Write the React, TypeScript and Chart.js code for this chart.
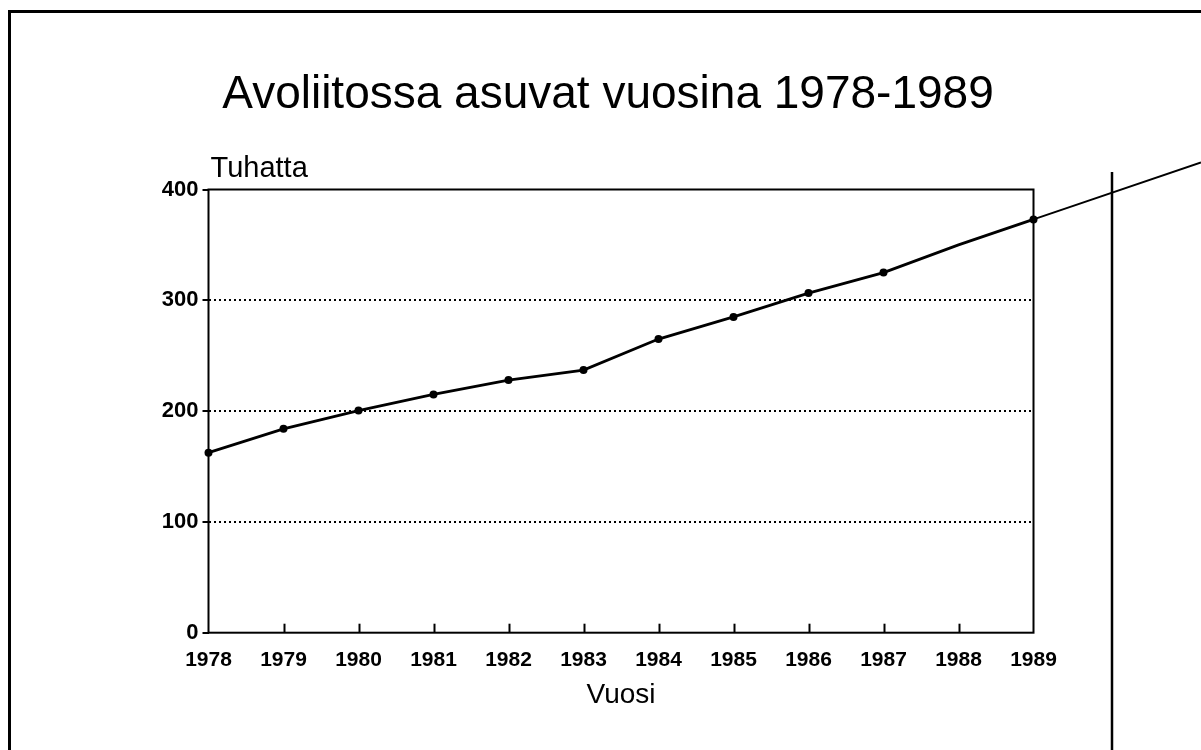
import React, { useEffect, useRef } from 'react';
import { Chart, registerables } from 'chart.js';

Chart.register(...registerables);

const years = ['1978', '1979', '1980', '1981', '1982', '1983', '1984', '1985', '1986', '1987', '1988', '1989'];
const cohabitingThousands = [162.5, 184, 200.5, 215, 228, 237, 265, 285, 306.5, 325, 350, 373];
const yTickValues = [0, 100, 200, 300, 400];
const unmarkedYears = ['1988'];
const titleText = 'Avoliitossa asuvat vuosina 1978-1989';
const yUnitLabel = 'Tuhatta';
const xAxisLabel = 'Vuosi';

const FONT = '"Liberation Sans", Arimo, Arial, Helvetica, sans-serif';

export default function App() {
  const canvasRef = useRef<HTMLCanvasElement>(null);

  useEffect(() => {
    const canvas = canvasRef.current;
    if (!canvas) return;

    const decor = {
      id: 'decor',
      afterDraw(chart: any) {
        const { ctx, chartArea: a, scales } = chart;
        const W = chart.width;
        const H = chart.height;
        ctx.save();
        ctx.strokeStyle = '#000';
        ctx.fillStyle = '#000';
        ctx.lineCap = 'butt';

        // plot box
        ctx.lineWidth = 2;
        ctx.strokeRect(a.left, a.top, a.right - a.left, a.bottom - a.top);

        // inward x tick marks
        const xs = scales.x;
        years.forEach((_, i) => {
          if (i === 0 || i === years.length - 1) return;
          const px = Math.round(xs.getPixelForValue(i)) + 0.5;
          ctx.beginPath();
          ctx.moveTo(px, a.bottom);
          ctx.lineTo(px, a.bottom - 9);
          ctx.stroke();
        });

        // unit label above y axis
        ctx.font = `29px ${FONT}`;
        ctx.textAlign = 'left';
        ctx.textBaseline = 'alphabetic';
        ctx.fillText(yUnitLabel, a.left + 2, a.top - 13);

        // continuation of the last segment beyond the plot
        const pts = chart.getDatasetMeta(0).data;
        const p1 = pts[pts.length - 2];
        const p2 = pts[pts.length - 1];
        const slope = (p2.y - p1.y) / (p2.x - p1.x);
        ctx.lineWidth = 2;
        ctx.beginPath();
        ctx.moveTo(p2.x, p2.y);
        ctx.lineTo(W, p2.y + slope * (W - p2.x));
        ctx.stroke();

        // page frame
        ctx.lineWidth = 3;
        ctx.beginPath();
        ctx.moveTo(8, 11.5);
        ctx.lineTo(W, 11.5);
        ctx.stroke();
        ctx.beginPath();
        ctx.moveTo(9.5, 10);
        ctx.lineTo(9.5, H);
        ctx.stroke();

        // vertical separator on the right
        ctx.lineWidth = 2.5;
        ctx.beginPath();
        ctx.moveTo(1112, 172);
        ctx.lineTo(1112, H);
        ctx.stroke();

        ctx.restore();
      },
    };

    const chart = new Chart(canvas, {
      type: 'line',
      data: {
        labels: years,
        datasets: [
          {
            label: yUnitLabel,
            data: cohabitingThousands,
            borderColor: '#000',
            backgroundColor: '#000',
            borderWidth: 2.8,
            tension: 0,
            pointRadius: (c: any) => (unmarkedYears.includes(years[c.dataIndex]) ? 0 : 4),
            pointBackgroundColor: '#000',
            pointBorderWidth: 0,
            clip: false as any,
          },
        ],
      },
      options: {
        responsive: false,
        animation: false,
        devicePixelRatio: 1,
        layout: { padding: { left: 15, right: 0, top: 0, bottom: 0 } },
        plugins: {
          legend: { display: false },
          tooltip: { enabled: false },
          title: {
            display: true,
            text: titleText,
            color: '#000',
            font: { family: FONT, size: 46, weight: 'normal', lineHeight: 1 },
            padding: { top: 72.4, bottom: 71.1 },
          },
        },
        scales: {
          x: {
            type: 'category',
            offset: false,
            grid: { display: false },
            border: { display: false },
            ticks: {
              color: '#000',
              font: { family: FONT, size: 21, weight: 'bold', lineHeight: 1 },
              padding: 9.5,
              maxRotation: 0,
              autoSkip: false,
            },
            title: {
              display: true,
              text: xAxisLabel,
              color: '#000',
              font: { family: FONT, size: 28, weight: 'normal', lineHeight: 1 },
              padding: { top: 0, bottom: 41 },
            },
            afterFit: (s: any) => {
              s.height = 117.3;
            },
          },
          y: {
            min: 0,
            max: 400,
            afterBuildTicks: (s: any) => {
              s.ticks = yTickValues.map((v) => ({ value: v }));
            },
            grid: {
              display: true,
              drawTicks: true,
              tickLength: 6,
              lineWidth: 2,
              color: (c: any) =>
                c.tick && (c.tick.value === 0 || c.tick.value === 400) ? 'rgba(0,0,0,0)' : '#000',
              tickColor: '#000',
              tickWidth: 2,
              tickBorderDash: [],
            },
            border: { display: false, dash: [2, 3] },
            ticks: {
              color: '#000',
              font: { family: FONT, size: 22, weight: 'bold', lineHeight: 1 },
              padding: 4,
            },
            afterFit: (s: any) => {
              s.width = 193.5;
            },
          },
          yR: {
            position: 'right',
            display: true,
            grid: { display: false },
            border: { display: false },
            ticks: { display: false },
            afterFit: (s: any) => {
              s.width = 167.5;
            },
          },
        },
      },
      plugins: [decor],
    } as any);

    return () => chart.destroy();
  }, []);

  return (
    <div style={{ position: 'absolute', left: 0, top: 0, width: 1201, height: 750, background: '#fff' }}>
      <canvas ref={canvasRef} width={1201} height={750} style={{ display: 'block', width: 1201, height: 750 }} />
    </div>
  );
}
